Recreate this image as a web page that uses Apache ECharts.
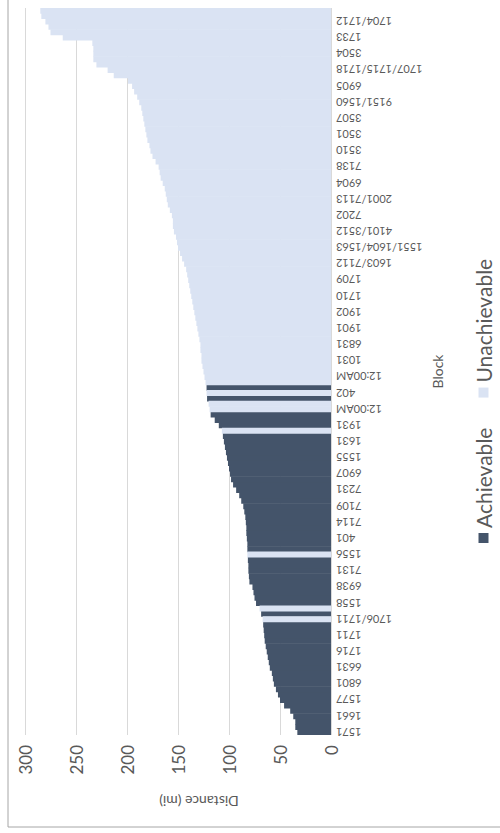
<!DOCTYPE html>
<html>
<head>
<meta charset="utf-8">
<script src="https://cdn.jsdelivr.net/npm/echarts@6/dist/echarts.min.js"></script>
<style>
html, body { margin: 0; padding: 0; background: #fff; overflow: hidden; }
/* chart is laid out as a column chart, then turned a quarter to the left */
#main { position: absolute; left: 0; top: 833px; width: 833px; height: 500px; transform-origin: 0 0; transform: rotate(-90deg); }
</style>
</head>
<body>
<div id="main"></div>
<script>
// label shown under every third bar, from the first bar to the last
var blockLabels = ['1571', '1661', '1577', '6801', '6631', '1716', '1711', '1706/1711', '1558', '6938',
    '7131', '1556', '401', '7114', '7109', '7231', '6907', '1555', '1631', '1931',
    '12:00AM', '402', '12:00AM', '1031', '6831', '1901', '1902', '1710', '1709', '1603/7112',
    '1551/1604/1563', '4101/3512', '7202', '2001/7113', '6904', '7138', '3510', '3501', '3507', '9151/1560',
    '6905', '1707/1715/1718', '3504', '1733', '1704/1712'];

// distance (mi) of each block, sorted
var distances = [
    33, 35, 35, 37, 40, 46, 50, 52, 54, 56,
    57, 58, 60, 61, 62, 63, 64, 65, 65.5, 66,
    66.5, 67, 68.5, 70, 73.5, 75, 76, 77, 80, 80.5,
    81, 81, 81.5, 82, 82, 82, 82.5, 83, 83, 83.5,
    84, 85, 86, 88, 90, 93, 96, 98, 99, 100,
    101, 102, 103, 104, 105, 106, 107, 110, 114, 118,
    119, 120, 121.5, 122, 122, 123, 124, 125, 126, 127,
    127, 128, 128, 129, 130, 131, 132, 133, 134, 135,
    136, 137, 138, 139, 140, 141, 142, 144, 146, 148,
    150, 151, 152, 154, 155, 155, 156, 158, 160, 161,
    162, 163, 165, 167, 168, 169, 172, 175, 177, 178,
    180, 181, 182, 183, 184, 185, 186, 188, 190, 193,
    195, 199, 213, 219, 230, 233, 233, 233, 234, 263,
    275, 277, 280, 284, 285
];

// A = achievable, U = unachievable, one letter per bar
var status =
    'AAAAAAAAAA' + 'AAAAAAAAAA' + 'AUAUAAAAAA' + 'AAAUAAAAAA' + 'AAAAAAAAAA' +
    'AAAAAAUAAA' + 'UUAUAUUUUU' + 'UUUUUUUUUU' + 'UUUUUUUUUU' + 'UUUUUUUUUU' +
    'UUUUUUUUUU' + 'UUUUUUUUUU' + 'UUUUUUUUUU' + 'UUUUU';

var categories = [];
var achievable = [];
var unachievable = [];
for (var i = 0; i < distances.length; i++) {
    categories.push(i % 3 === 0 ? blockLabels[i / 3] : '');
    achievable.push(status[i] === 'A' ? distances[i] : '-');
    unachievable.push(status[i] === 'U' ? distances[i] : '-');
}

var myChart = echarts.init(document.getElementById('main'), null, { renderer: 'svg' });

var option = {
    animation: false,
    textStyle: { fontFamily: 'Lato' },
    color: ['#44546A', '#DAE3F3'],
    grid: { left: 98, right: 8, top: 25, bottom: 169 },
    legend: {
        data: ['Achievable', 'Unachievable'],
        left: 285,
        top: 468,
        icon: 'rect',
        itemWidth: 10,
        itemHeight: 10,
        itemGap: 30,
        textStyle: { color: '#595959', fontSize: 21, fontFamily: 'Lato' }
    },
    xAxis: {
        type: 'category',
        data: categories,
        name: 'Block',
        nameLocation: 'middle',
        nameGap: 98,
        nameTextStyle: { color: '#595959', fontSize: 14, fontFamily: 'Lato' },
        axisLine: { show: false },
        axisTick: { show: false },
        axisLabel: {
            interval: 0,
            rotate: 90,
            margin: 5,
            color: '#595959',
            fontSize: 11,
            fontFamily: 'Lato'
        }
    },
    yAxis: {
        type: 'value',
        min: 0,
        max: 300,
        interval: 50,
        axisLine: { show: false },
        axisTick: { show: false },
        axisLabel: { margin: 10, color: '#595959', fontSize: 17, fontFamily: 'Lato' },
        splitLine: { lineStyle: { color: '#D9D9D9', width: 1 } }
    },
    graphic: [
        {
            type: 'rect',
            silent: true,
            shape: { x: 6, y: 8, width: 900, height: 600 },
            style: { fill: 'none', stroke: '#A6A6A6', lineWidth: 1 }
        },
        {
            type: 'text',
            silent: true,
            x: 32,
            y: 199,
            rotation: Math.PI / 2,
            style: {
                text: 'Distance (mi)',
                fill: '#595959',
                font: '14px Lato',
                align: 'center',
                verticalAlign: 'middle'
            }
        }
    ],
    // bars a touch wider than their band so neighbours butt together with no seam
    series: [
        {
            name: 'Achievable',
            type: 'bar',
            stack: 'block',
            barWidth: 6,
            data: achievable
        },
        {
            name: 'Unachievable',
            type: 'bar',
            stack: 'block',
            barWidth: 6,
            data: unachievable
        }
    ]
};

myChart.setOption(option);
</script>
</body>
</html>
